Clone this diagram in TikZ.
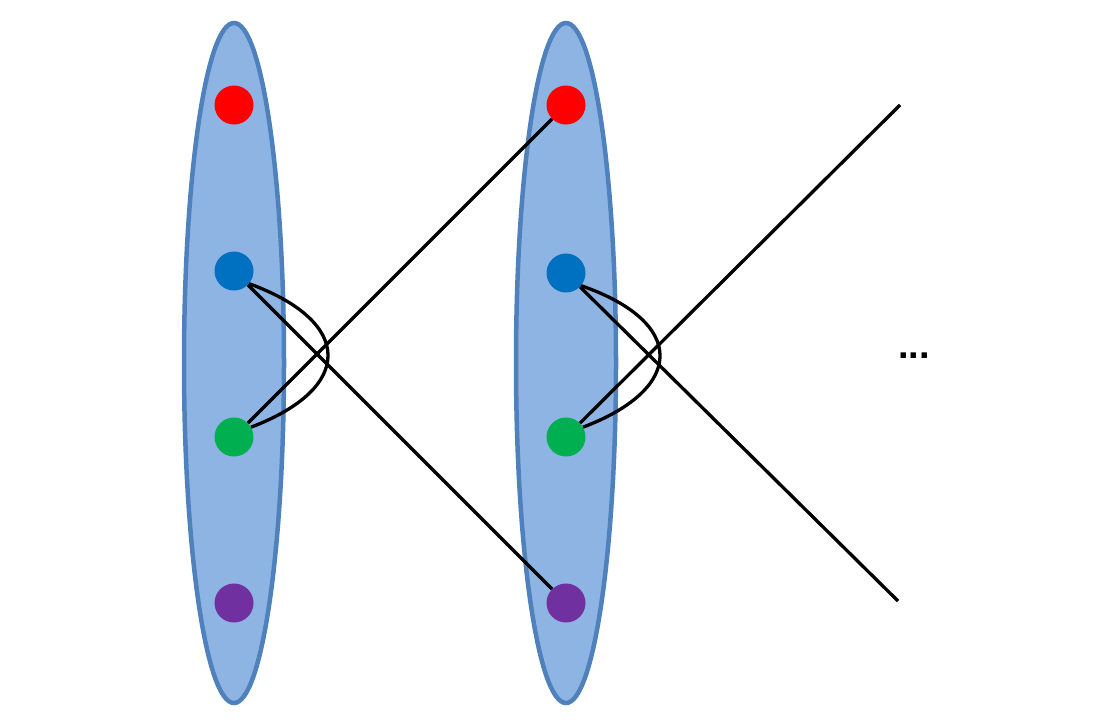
\documentclass[tikz,border=0pt]{standalone}
\usepackage{fontspec}
\setmainfont{Liberation Sans}
\definecolor{ellfill}{HTML}{8EB4E3}
\definecolor{elldraw}{HTML}{4F81BD}
\definecolor{dred}{HTML}{FF0000}
\definecolor{dblue}{HTML}{0070C0}
\definecolor{dgreen}{HTML}{00B050}
\definecolor{dpurple}{HTML}{7030A0}
\begin{document}
\begin{tikzpicture}[x=1pt,y=-1pt,
  layer/.style={fill=ellfill,draw=elldraw,line width=4.5pt},
  dot/.style={circle,inner sep=0pt,minimum size=39pt,draw=none},
  link/.style={line width=3.3pt,black}]
\useasboundingbox (0,0) rectangle (1102,724);
\fill[white] (0,0) rectangle (1102,724);
\draw[layer] (234,363) ellipse [x radius=50, y radius=340];
\draw[layer] (566,363) ellipse [x radius=50, y radius=340];
\node[dot,fill=dred] (r1) at (234,105) {};
\node[dot,fill=dblue] (b1) at (234,271) {};
\node[dot,fill=dgreen] (g1) at (234,437) {};
\node[dot,fill=dpurple] (p1) at (234,603) {};
\node[dot,fill=dred] (r2) at (566,105) {};
\node[dot,fill=dblue] (b2) at (566,273) {};
\node[dot,fill=dgreen] (g2) at (566,437) {};
\node[dot,fill=dpurple] (p2) at (566,603) {};
\coordinate (e1) at (900,105);
\coordinate (e2) at (898,601);
\draw[link] (g1) -- (r2);
\draw[link] (b1) -- (p2);
\draw[link] (b1.-40) .. controls (354,322) and (354,388) .. (g1.30);
\draw[link] (g2) -- (e1);
\draw[link] (b2) -- (e2);
\draw[link] (b2.-40) .. controls (686,322) and (686,388) .. (g2.30);
\node[font=\fontsize{38}{44}\selectfont\bfseries] (dots) at (914,356) {...};
\end{tikzpicture}
\end{document}
